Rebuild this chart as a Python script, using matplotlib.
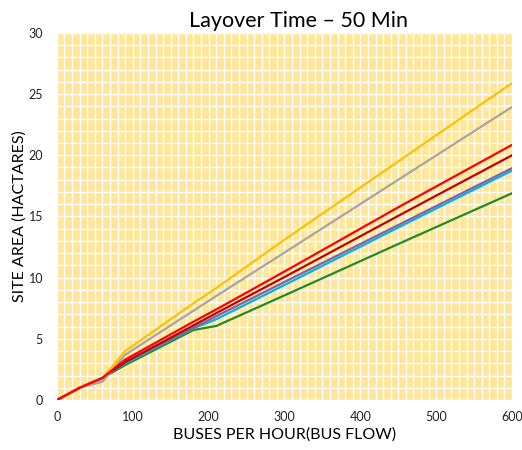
import matplotlib.pyplot as plt
from matplotlib.ticker import MultipleLocator

plt.rcParams['font.family'] = ['Lato', 'DejaVu Sans']

# buses per hour
bus_flow = [0, 30, 60, 90, 180, 210, 300, 450, 600]

# site area (hectares), one list per series
yellow = [0, 1.0, 1.8, 4.0, 7.9, 9.15, 13.1, 19.5, 25.9]
gray = [0, 1.0, 1.5, 3.7, 7.3, 8.5, 12.05, 18.0, 23.95]
dark_red = [0, 1.0, 1.8, 3.1, 6.1, 7.1, 10.05, 15.05, 20.0]
purple = [0, 1.0, 1.8, 3.1, 5.9, 6.85, 9.65, 14.3, 18.95]
blue = [0, 1.0, 1.8, 3.0, 5.86, 6.6, 9.4, 14.1, 18.75]
green = [0, 1.0, 1.8, 2.86, 5.72, 6.05, 8.55, 12.75, 16.9]
red = [0, 1.0, 1.8, 3.3, 6.4, 7.4, 10.5, 15.75, 20.85]

series = [
    (green, '#228B22'),
    (blue, '#00B0F0'),
    (purple, '#8064A2'),
    (dark_red, '#C00000'),
    (gray, '#A5A5A5'),
    (yellow, '#FFC000'),
    (red, '#FF0000'),
]

fig = plt.figure(figsize=(5.22, 4.5), dpi=100)
ax = fig.add_axes([0.109, 0.111, 0.872, 0.816])
ax.set_facecolor('#FFE699')

for vals, col in series:
    ax.plot(bus_flow, vals, color=col, lw=1.6, solid_capstyle='round')

ax.set_xlim(0, 600)
ax.set_ylim(0, 30)
ax.xaxis.set_major_locator(MultipleLocator(100))
ax.yaxis.set_major_locator(MultipleLocator(5))
ax.xaxis.set_minor_locator(MultipleLocator(10))
ax.yaxis.set_minor_locator(MultipleLocator(1))
ax.grid(which='both', color='white', lw=1.0)
ax.set_axisbelow(True)
ax.tick_params(which='both', length=0, labelsize=9, colors='#222222')
ax.tick_params(axis='x', pad=8)
ax.tick_params(axis='y', pad=10)
for s in ax.spines.values():
    s.set_visible(False)

ax.set_title('Layover Time \u2013 50 Min', fontsize=15.5, pad=4, x=0.53)
ax.set_xlabel('BUSES PER HOUR(BUS FLOW)', fontsize=11.5, labelpad=3)
ax.set_ylabel('SITE AREA (HACTARES)', fontsize=11.5, labelpad=1)

fig.savefig('out.png', dpi=100)
